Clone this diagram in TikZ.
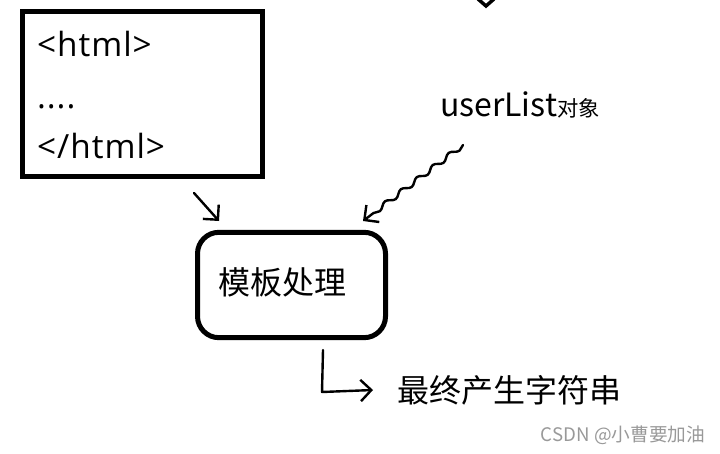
\documentclass[tikz,border=0pt]{standalone}
\usepackage{fontspec}
\setmainfont{Noto Sans CJK SC}
\newfontfamily\tagfont[LetterSpace=3]{Open Sans}
\usetikzlibrary{arrows.meta, positioning, decorations.pathmorphing}
\tikzset{
  bigtxt/.style={inner sep=0pt,outer sep=0pt,font=\fontsize{24}{28}\selectfont},
  tagtxt/.style={inner sep=0pt,outer sep=0pt,font=\tagfont\fontsize{25}{29}\selectfont},
  penline/.style={line width=1.8pt,line cap=round,line join=round},
  pentip/.style={-{Straight Barb[length=8pt,width=16pt,line width=1.8pt]}},
}
\begin{document}
\begin{tikzpicture}[x=0.75pt,y=-0.75pt,inner sep=0pt,outer sep=0pt]
\useasboundingbox (0,0) rectangle (720,453);
% template source
\node[draw,line width=3.75pt,minimum width=180pt,minimum height=123pt] (tplbox) at (142,94) {};
\node[tagtxt,anchor=base west] (tplA) at (37,56) {<html>};
\node[tagtxt,anchor=base west] (tplB) at (37,108) {....};
\node[tagtxt,anchor=base west] (tplC) at (37,158) {</html>};
% processing
\node[draw,line width=3.75pt,rounded corners=16pt,minimum width=141pt,minimum height=79pt] (proc) at (291.5,285) {};
\node[bigtxt,anchor=west] (procT) at (218,282) {模板处理};
% data object
\node[bigtxt,anchor=base west] (ulist) at (440,116) {userList{\fontsize{16}{18}\selectfont 对象}};
% result
\node[bigtxt,anchor=west] (res) at (397,390) {最终产生字符串};
\node[inner sep=0pt,anchor=east,text=black!40,font=\fontsize{14}{16}\selectfont] (mark) at (705,435) {CSDN @小曹要加油};
% arrows
\coordinate (inA) at (194,193);
\coordinate (inB) at (219,221);
\coordinate (ulA) at (463,145);
\coordinate (ulB) at (363,221);
\coordinate (outA) at (323,350);
\draw[penline,pentip] (inA) -- (inB);
\draw[penline,pentip,decorate,decoration={snake,amplitude=1.8pt,segment length=15pt,post length=9pt}] (ulA) -- (ulB);
\draw[penline,pentip] (outA) -- (322,392) -- ([xshift=-18pt]res.west);
% cut-off tip at the top edge
\coordinate (topA) at (478,-1);
\coordinate (topB) at (494,-1);
\draw[line width=2.6pt,line join=miter] (topA) -- (486,6) -- (topB);
\end{tikzpicture}
\end{document}
